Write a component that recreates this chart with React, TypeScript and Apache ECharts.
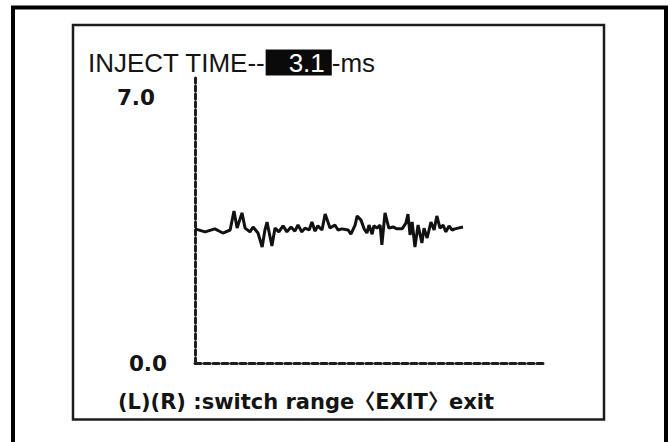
import React, { useEffect, useRef } from "react";
import * as echarts from "echarts";

// elapsed time (arbitrary units, axis 0..100)
const timeValues = [
  0, 2.9, 5.7, 8.0, 10.1, 11.2, 12.1, 13.5, 14.4, 15.8, 16.7, 18.1, 19.3, 20.1, 20.7,
  22.1, 23.0, 24.1, 25.3, 26.4, 27.6, 28.7, 29.6, 30.7, 31.6, 32.8, 33.6, 34.5, 35.3,
  36.5, 37.4, 38.8, 40.2, 41.1, 42.2, 44.0, 44.8, 46.0, 46.6, 47.7, 48.6, 49.4, 50.0,
  50.9, 51.4, 52.3, 53.2, 53.7, 54.6, 55.7, 56.9, 58.0, 59.5, 60.6, 61.2, 61.8, 62.4,
  63.2, 64.1, 65.2, 65.8, 66.7, 67.8, 68.7, 69.5, 70.4, 71.3, 72.1, 73.0, 73.9, 74.7,
  75.6, 77.0,
];

// inject time (ms)
const injectValues = [
  3.53, 3.45, 3.53, 3.42, 3.5, 4.0, 3.55, 3.95, 3.55, 3.45, 3.58, 3.42, 3.05, 3.5, 3.71,
  3.08, 3.55, 3.45, 3.61, 3.45, 3.58, 3.47, 3.63, 3.45, 3.55, 3.5, 3.71, 3.47, 3.61,
  3.5, 3.92, 3.55, 3.63, 3.5, 3.53, 3.5, 3.39, 3.63, 3.87, 3.76, 3.53, 3.42, 3.63,
  3.39, 3.61, 3.55, 3.63, 3.11, 3.95, 3.55, 3.58, 3.53, 3.53, 3.68, 3.92, 3.37, 3.71,
  3.05, 3.63, 3.16, 3.55, 3.29, 3.71, 3.5, 3.87, 3.55, 3.63, 3.45, 3.61, 3.5, 3.53,
  3.55, 3.58,
];

const yTickValues = [0, 7];
const yTickLabels = ["0.0", "7.0"];
const titleLabel = "INJECT TIME--";
const currentValue = "3.1";
const unitLabel = "ms";
const footerText = "(L)(R) :switch range\u3008EXIT\u3009exit";

const BOLD_FONT = "'DejaVu Sans', 'Noto Sans CJK SC', sans-serif";
const TITLE_FONT = "'Liberation Sans', Arial, sans-serif";

export default function App() {
  const ref = useRef<HTMLDivElement>(null);

  useEffect(() => {
    if (!ref.current) return;
    const chart = echarts.init(ref.current, undefined, { renderer: "svg" });
    const data = timeValues.map((t, i) => [t, injectValues[i]]);

    chart.setOption({
      animation: false,
      backgroundColor: "#ffffff",
      title: {
        text: `${titleLabel}{v|${currentValue}}-${unitLabel}`,
        left: 88,
        top: 50,
        padding: 0,
        textStyle: {
          fontFamily: TITLE_FONT,
          fontSize: 26,
          fontWeight: "normal",
          color: "#141414",
          lineHeight: 25,
          rich: {
            v: {
              fontFamily: TITLE_FONT,
              fontSize: 26,
              color: "#ffffff",
              backgroundColor: "#0a0a0a",
              padding: [0, 7, 0, 23],
              lineHeight: 25,
            },
          },
        },
      },
      grid: { left: 195, right: 127, top: 78, bottom: 79 },
      xAxis: {
        type: "value",
        min: 0,
        max: 100,
        axisLine: {
          show: true,
          lineStyle: { color: "#1e1e1e", width: 3, type: [6, 3] },
        },
        axisTick: { show: false },
        axisLabel: { show: false },
        splitLine: { show: false },
      },
      yAxis: {
        type: "value",
        min: 0,
        max: 7.5,
        axisLine: {
          show: true,
          lineStyle: { color: "#1e1e1e", width: 3, type: [5, 3] },
        },
        axisTick: { show: false },
        splitLine: { show: false },
        axisLabel: {
          customValues: yTickValues,
          margin: 28,
          formatter: (v: number) => {
            const idx = yTickValues.indexOf(v);
            const label = idx >= 0 ? yTickLabels[idx] : "";
            return v === 0 ? `{b|${label}}` : `{t|${label}}`;
          },
          rich: {
            b: {
              fontFamily: BOLD_FONT,
              fontWeight: "bold",
              fontSize: 21.5,
              color: "#141414",
            },
            t: {
              fontFamily: BOLD_FONT,
              fontWeight: "bold",
              fontSize: 21.5,
              color: "#141414",
              padding: [0, 12, 0, 0],
            },
          },
        },
      },
      series: [
        {
          type: "line",
          data,
          symbol: "none",
          lineStyle: { color: "#111", width: 3 },
        },
      ],
      graphic: [
        {
          type: "rect",
          z: -1,
          shape: { x: 13, y: 7.5, width: 653, height: 460 },
          style: { fill: "none", stroke: "#000", lineWidth: 4 },
        },
        {
          type: "rect",
          z: -1,
          shape: { x: 73, y: 25, width: 531, height: 394.5 },
          style: { fill: "none", stroke: "#1c1c1c", lineWidth: 2.5 },
        },
        {
          type: "text",
          x: 118,
          y: 402,
          style: {
            text: footerText,
            fontFamily: BOLD_FONT,
            fontWeight: "bold",
            fontSize: 21,
            fill: "#141414",
            verticalAlign: "middle",
            align: "left",
          },
        },
      ],
    });

    return () => chart.dispose();
  }, []);

  return (
    <div
      ref={ref}
      style={{ position: "fixed", left: 0, top: 0, width: 670, height: 442 }}
    />
  );
}
